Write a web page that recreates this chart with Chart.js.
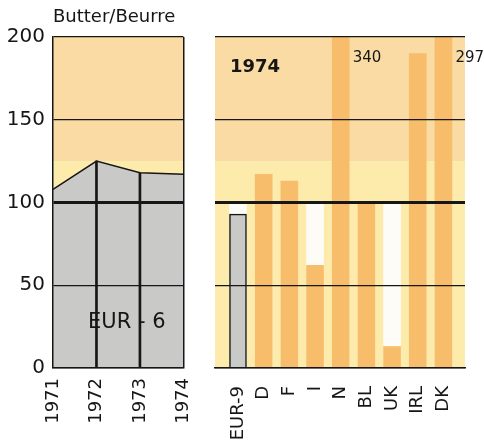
<!DOCTYPE html>
<html>
<head>
<meta charset="utf-8">
<title>Butter/Beurre</title>
<script src="https://cdn.jsdelivr.net/npm/chart.js@4"></script>
<style>
  html, body { margin: 0; padding: 0; background: #fff; }
  #wrap { position: relative; width: 484px; height: 443px; overflow: hidden; }
  #trendChart { position: absolute; left: 0; top: 0; }
  #countryChart { position: absolute; left: 205px; top: 0; }
</style>
</head>
<body>
<div id="wrap">
  <canvas id="trendChart" width="215" height="443"></canvas>
  <canvas id="countryChart" width="279" height="443"></canvas>
</div>
<script>
// EUR-6 index, 1971-1974
const years = ["1971", "1972", "1973", "1974"];
const eur6 = [108, 125, 118, 117];

// 1974 by country
const countries = ["EUR-9", "D", "F", "I", "N", "BL", "UK", "IRL", "DK"];
const values1974 = [93, 117, 113, 62, 340, 100, 13, 190, 297];

const yTicks = [0, 50, 100, 150, 200];
const baseLevel = 100;

// colours
const GREY = "#c9c9c7";
const ORANGE = "#f7bd6b";
const PALE = "#fcebab";
const BEIGE = "#f9dba3";
const BLANK = "#fdfcf7";
const INK = "#161616";

Chart.defaults.font.family = "'DejaVu Sans', sans-serif";
Chart.defaults.color = INK;

// two-tone plot background (beige above 125, pale yellow below)
const bandPlugin = {
  id: "bands",
  beforeDatasetsDraw(chart) {
    const { ctx, chartArea: a, scales } = chart;
    const yMid = scales.y.getPixelForValue(125);
    ctx.save();
    ctx.fillStyle = BEIGE;
    ctx.fillRect(a.left, a.top, a.right - a.left, yMid - a.top);
    ctx.fillStyle = PALE;
    ctx.fillRect(a.left, yMid, a.right - a.left, a.bottom - yMid);
    ctx.restore();
  }
};

// grid sits above the bars and the area
const yGrid = {
  z: 1,
  color: INK,
  drawTicks: false,
  lineWidth: c => (c.tick && c.tick.value === 100 ? 3 : 1.2)
};

// left panel: EUR-6 area
new Chart(document.getElementById("trendChart"), {
  type: "line",
  data: {
    labels: years,
    datasets: [
      {
        type: "bar",
        data: eur6.map((v, i) => (i === 0 || i === eur6.length - 1 ? null : v)),
        backgroundColor: INK,
        barThickness: 2
      },
      {
        data: eur6,
        borderColor: INK,
        borderWidth: 1.5,
        backgroundColor: GREY,
        fill: "origin",
        pointRadius: 0,
        tension: 0
      }
    ]
  },
  options: {
    responsive: false,
    animation: false,
    devicePixelRatio: 1,
    layout: { padding: { top: 37, right: 11, left: 0, bottom: 0 } },
    plugins: { legend: { display: false }, tooltip: { enabled: false } },
    scales: {
      x: {
        type: "category",
        offset: false,
        grid: {
          z: 1,
          offset: false,
          drawTicks: false,
          lineWidth: 1.5,
          color: c => (c.index === years.length - 1 ? INK : "rgba(0,0,0,0)")
        },
        border: { display: true, color: INK, width: 1.5, z: 1 },
        ticks: { font: { size: 18 }, maxRotation: 90, minRotation: 90, padding: 10, autoSkip: false },
        afterFit: s => { s.height = 75; }
      },
      y: {
        min: 0,
        max: 200,
        afterBuildTicks: s => { s.ticks = yTicks.map(v => ({ value: v })); },
        grid: yGrid,
        border: { display: true, color: INK, width: 1.5, z: 1 },
        ticks: { font: { size: 20 }, padding: 8 },
        afterFit: s => { s.width = 53; }
      }
    }
  },
  plugins: [bandPlugin, {
    id: "trendText",
    afterDraw(chart) {
      const { ctx, chartArea: a } = chart;
      ctx.save();
      ctx.fillStyle = INK;
      ctx.textBaseline = "middle";
      ctx.textAlign = "left";
      ctx.font = "18px 'DejaVu Sans'";
      ctx.fillText("Butter/Beurre", a.left, 17);
      ctx.font = "21px 'DejaVu Sans'";
      ctx.fillText("EUR - 6", a.left + 35, 323);
      ctx.restore();
    }
  }]
});

// right panel: 1974 bars by country
const barColours = countries.map((c, i) => (i === 0 ? GREY : ORANGE));

new Chart(document.getElementById("countryChart"), {
  type: "bar",
  data: {
    datasets: [
      {
        data: values1974.map((v, i) => ({ x: i, y: v })),
        backgroundColor: barColours,
        borderColor: countries.map((c, i) => (i === 0 ? INK : "rgba(0,0,0,0)")),
        borderWidth: countries.map((c, i) => (i === 0 ? 1.5 : 0)),
        barThickness: 17
      },
      {
        data: countries.map((c, i) => ({ x: i, y: baseLevel })),
        backgroundColor: BLANK,
        barThickness: 17
      }
    ]
  },
  options: {
    responsive: false,
    animation: false,
    devicePixelRatio: 1,
    layout: { padding: { top: 37, right: 19, left: 10, bottom: 0 } },
    datasets: { bar: { grouped: false } },
    plugins: { legend: { display: false }, tooltip: { enabled: false } },
    scales: {
      x: {
        type: "linear",
        offset: false,
        min: -0.895,
        max: 8.84,
        afterBuildTicks: s => { s.ticks = countries.map((c, i) => ({ value: i })); },
        grid: { display: false, offset: false },
        border: { display: true, color: INK, width: 1.5, z: 1 },
        ticks: {
          font: { size: 18 },
          maxRotation: 90,
          minRotation: 90,
          padding: 10,
          autoSkip: false,
          callback: v => countries[v]
        },
        afterFit: s => { s.height = 75; }
      },
      y: {
        min: 0,
        max: 200,
        afterBuildTicks: s => { s.ticks = yTicks.map(v => ({ value: v })); },
        grid: yGrid,
        border: { display: false },
        ticks: { display: false },
        afterFit: s => { s.width = 0; }
      }
    }
  },
  plugins: [bandPlugin, {
    id: "countryText",
    afterDraw(chart) {
      const { ctx, chartArea: a, scales } = chart;
      ctx.save();
      ctx.fillStyle = INK;
      ctx.textBaseline = "middle";
      ctx.textAlign = "left";
      ctx.font = "bold 18px 'DejaVu Sans'";
      ctx.fillText("1974", a.left + 15, 67);
      // values running off the top of the scale
      ctx.font = "15px 'DejaVu Sans'";
      values1974.forEach((v, i) => {
        if (v > scales.y.max) {
          ctx.fillText(String(v), scales.x.getPixelForValue(i) + 12, a.top + 21);
        }
      });
      ctx.restore();
    }
  }]
});
</script>
</body>
</html>
